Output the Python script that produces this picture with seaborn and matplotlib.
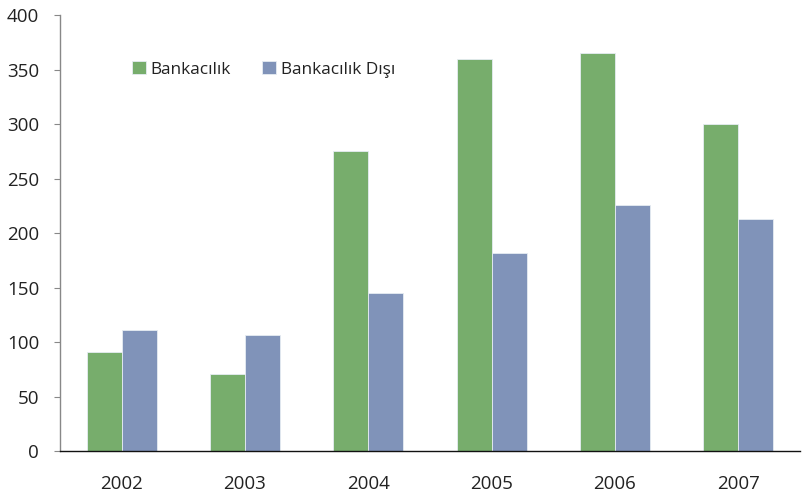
import matplotlib
matplotlib.use("Agg")
import matplotlib.pyplot as plt
import seaborn as sns
import pandas as pd

years = ["2002", "2003", "2004", "2005", "2006", "2007"]
bankacilik = [91, 71, 275, 360, 365, 300]
bankacilik_disi = [111, 106, 145, 182, 226, 213]
series_names = ["Bankacılık", "Bankacılık Dışı"]
colors = ["#77AD6C", "#8093B9"]

df = pd.DataFrame({
    "Yıl": years * 2,
    "Değer": bankacilik + bankacilik_disi,
    "Seri": [series_names[0]] * len(years) + [series_names[1]] * len(years),
})

sns.set_theme(style="white")
plt.rcParams["font.family"] = ["Open Sans", "DejaVu Sans"]

fig = plt.figure(figsize=(8.09, 4.94), dpi=100)
ax = fig.add_axes([60 / 809, 43 / 494, 740 / 809, 436 / 494])

sns.barplot(data=df, x="Yıl", y="Değer", hue="Seri", palette=colors,
            width=0.57, saturation=1, edgecolor="#E6ECF2", linewidth=0.6,
            ax=ax)

ax.set_ylim(0, 400)
ax.set_xlim(-0.5, 5.5)
ax.set_yticks(range(0, 401, 50))
ax.set_xlabel("")
ax.set_ylabel("")
ax.tick_params(axis="y", left=True, length=4, width=0.8, color="#888888",
               labelsize=13.5, pad=11, labelcolor="#222222")
ax.tick_params(axis="x", bottom=False, labelsize=13.5, pad=11,
               labelcolor="#222222")

for side in ["top", "right"]:
    ax.spines[side].set_visible(False)
ax.spines["left"].set_color("#888888")
ax.spines["left"].set_linewidth(1.0)
ax.spines["bottom"].set_color("#111111")
ax.spines["bottom"].set_linewidth(1.0)

leg = ax.legend(loc="upper left", bbox_to_anchor=(0.076, 0.93), ncol=2,
                frameon=False, fontsize=12.4, handlelength=0.8,
                handleheight=0.8, handletextpad=0.3, columnspacing=1.8)
for t in leg.get_texts():
    t.set_color("#222222")

fig.savefig("out.png", dpi=100)
